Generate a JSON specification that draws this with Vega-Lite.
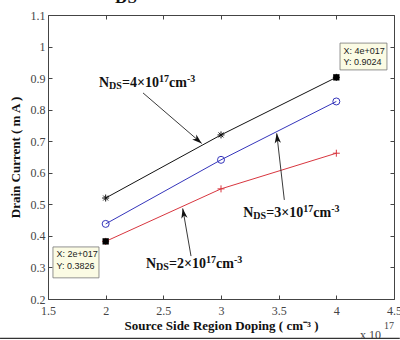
{
  "$schema": "https://vega.github.io/schema/vega-lite/v6.json",
  "width": 346,
  "height": 284,
  "autosize": {"type": "none"},
  "padding": {"left": 48, "top": 15, "right": 6, "bottom": 41},
  "background": "white",
  "config": {
    "view": {"stroke": "#444", "strokeWidth": 1},
    "axis": {
      "domain": false,
      "grid": false,
      "tickColor": "#444",
      "tickSize": -4,
      "tickWidth": 1,
      "labelFont": "Liberation Serif",
      "labelFontSize": 12,
      "labelColor": "#444",
      "labelFlush": false,
      "labelOverlap": false,
      "labelBound": false,
      "titleFont": "Liberation Serif",
      "titleFontSize": 13,
      "titleFontWeight": "bold",
      "titleColor": "#111"
    }
  },
  "datasets": {
    "series": [
      {"x": 2, "y": 0.52, "s": "4e17"},
      {"x": 3, "y": 0.72, "s": "4e17"},
      {"x": 4, "y": 0.9024, "s": "4e17"},
      {"x": 2, "y": 0.438, "s": "3e17"},
      {"x": 3, "y": 0.641, "s": "3e17"},
      {"x": 4, "y": 0.826, "s": "3e17"},
      {"x": 2, "y": 0.3826, "s": "2e17"},
      {"x": 3, "y": 0.549, "s": "2e17"},
      {"x": 4, "y": 0.662, "s": "2e17"}
    ],
    "tips": [
      {"px": 4, "py": 0.9024, "bx": 4.032, "bx2": 4.439, "by": 1.011, "by2": 0.926, "label": "X: 4e+017\nY: 0.9024"},
      {"px": 2, "py": 0.3826, "bx": 1.543, "bx2": 1.942, "by": 0.365, "by2": 0.267, "label": "X: 2e+017\nY: 0.3826"}
    ],
    "labels": [
      {"lx": 1.942, "ly": 0.873, "n": "N", "sub": "DS", "eq": "=4×10", "e1": "17", "u": "cm", "e2": "-3"},
      {"lx": 3.193, "ly": 0.461, "n": "N", "sub": "DS", "eq": "=3×10", "e1": "17", "u": "cm", "e2": "-3"},
      {"lx": 2.35, "ly": 0.298, "n": "N", "sub": "DS", "eq": "=2×10", "e1": "17", "u": "cm", "e2": "-3"}
    ],
    "arrows": [
      {"id": "a1", "x": 2.324, "y": 0.853, "x2": 2.833, "y2": 0.693},
      {"id": "a2", "x": 3.549, "y": 0.514, "x2": 3.483, "y2": 0.725},
      {"id": "a3", "x": 2.74, "y": 0.336, "x2": 2.668, "y2": 0.487}
    ],
    "extras": [
      {"x": 4.205, "y": 0.0748, "t": "x 10", "kind": "mult"},
      {"x": 4.413, "y": 0.105, "t": "17", "kind": "exp"},
      {"x": 2.176, "y": 1.139, "t": "DS", "kind": "top"}
    ],
    "frame": [
      {"x": 1.084, "x2": 4.55, "y": 0.0755}
    ]
  },
  "resolve": {"axis": {"x": "independent", "y": "independent"}},
  "layer": [
    {
      "data": {"name": "series"},
      "mark": {"type": "line", "strokeWidth": 1},
      "encoding": {
        "x": {"field": "x", "type": "quantitative", "scale": {"domain": [1.5, 4.5], "nice": false, "zero": false},
          "axis": {"orient": "bottom", "values": [1.5, 2, 2.5, 3, 3.5, 4, 4.5], "format": "~g", "labelPadding": 10, "titlePadding": 3,
            "title": "Source Side Region Doping ( cm⁻³ )"}},
        "y": {"field": "y", "type": "quantitative", "scale": {"domain": [0.2, 1.1], "nice": false, "zero": false},
          "axis": {"orient": "left", "values": [0.2, 0.3, 0.4, 0.5, 0.6, 0.7, 0.8, 0.9, 1, 1.1], "format": "~g", "labelPadding": 7, "titlePadding": 8,
            "title": "Drain Current ( m A )"}},
        "color": {"field": "s", "type": "nominal", "scale": {"domain": ["4e17", "3e17", "2e17"], "range": ["#111111", "#3535bb", "#d8363f"]}, "legend": null},
        "detail": {"field": "s"}
      }
    },
    {
      "data": {"name": "series"},
      "mark": {"type": "point", "filled": false, "opacity": 1, "size": 49, "strokeWidth": 1},
      "encoding": {
        "x": {"field": "x", "type": "quantitative", "scale": {"domain": [1.5, 4.5], "nice": false, "zero": false},
          "axis": {"orient": "top", "values": [1.5, 2, 2.5, 3, 3.5, 4, 4.5], "labels": false, "title": null}},
        "y": {"field": "y", "type": "quantitative", "scale": {"domain": [0.2, 1.1], "nice": false, "zero": false},
          "axis": {"orient": "right", "values": [0.2, 0.3, 0.4, 0.5, 0.6, 0.7, 0.8, 0.9, 1, 1.1], "labels": false, "title": null}},
        "color": {"field": "s", "type": "nominal", "scale": {"domain": ["4e17", "3e17", "2e17"], "range": ["#111111", "#3535bb", "#d8363f"]}, "legend": null},
        "shape": {"field": "s", "type": "nominal", "scale": {"domain": ["4e17", "3e17", "2e17"], "range": ["M-1,0L1,0M0,-1L0,1M-0.7,-0.7L0.7,0.7M-0.7,0.7L0.7,-0.7", "circle", "M-1,0L1,0M0,-1L0,1"]}, "legend": null}
      }
    },
    {
      "data": {"name": "arrows"},
      "mark": {"type": "rule", "color": "#222", "strokeWidth": 0.9},
      "encoding": {
        "x": {"field": "x", "type": "quantitative", "scale": {"domain": [1.5, 4.5], "nice": false, "zero": false}, "axis": null},
        "y": {"field": "y", "type": "quantitative", "scale": {"domain": [0.2, 1.1], "nice": false, "zero": false}, "axis": null},
        "x2": {"field": "x2"},
        "y2": {"field": "y2"}
      }
    },
    {
      "data": {"name": "arrows"},
      "transform": [{"filter": "datum.id === 'a1'"}],
      "mark": {"type": "point", "shape": "M0,0L-0.7,2.2L0,1.6L0.7,2.2Z", "filled": true, "opacity": 1, "color": "#111", "size": 81, "angle": 130.6},
      "encoding": {
        "x": {"field": "x2", "type": "quantitative", "scale": {"domain": [1.5, 4.5], "nice": false, "zero": false}, "axis": null},
        "y": {"field": "y2", "type": "quantitative", "scale": {"domain": [0.2, 1.1], "nice": false, "zero": false}, "axis": null}
      }
    },
    {
      "data": {"name": "arrows"},
      "transform": [{"filter": "datum.id === 'a2'"}],
      "mark": {"type": "point", "shape": "M0,0L-0.7,2.2L0,1.6L0.7,2.2Z", "filled": true, "opacity": 1, "color": "#111", "size": 81, "angle": 353.5},
      "encoding": {
        "x": {"field": "x2", "type": "quantitative", "scale": {"domain": [1.5, 4.5], "nice": false, "zero": false}, "axis": null},
        "y": {"field": "y2", "type": "quantitative", "scale": {"domain": [0.2, 1.1], "nice": false, "zero": false}, "axis": null}
      }
    },
    {
      "data": {"name": "arrows"},
      "transform": [{"filter": "datum.id === 'a3'"}],
      "mark": {"type": "point", "shape": "M0,0L-0.7,2.2L0,1.6L0.7,2.2Z", "filled": true, "opacity": 1, "color": "#111", "size": 81, "angle": 350},
      "encoding": {
        "x": {"field": "x2", "type": "quantitative", "scale": {"domain": [1.5, 4.5], "nice": false, "zero": false}, "axis": null},
        "y": {"field": "y2", "type": "quantitative", "scale": {"domain": [0.2, 1.1], "nice": false, "zero": false}, "axis": null}
      }
    },
    {
      "data": {"name": "tips"},
      "mark": {"type": "rect", "fill": "#fbfbe4", "stroke": "#777", "strokeWidth": 0.8},
      "encoding": {
        "x": {"field": "bx", "type": "quantitative", "scale": {"domain": [1.5, 4.5], "nice": false, "zero": false}, "axis": null},
        "x2": {"field": "bx2"},
        "y": {"field": "by", "type": "quantitative", "scale": {"domain": [0.2, 1.1], "nice": false, "zero": false}, "axis": null},
        "y2": {"field": "by2"}
      }
    },
    {
      "data": {"name": "tips"},
      "mark": {"type": "text", "align": "left", "baseline": "alphabetic", "dx": 3.5, "dy": 10.5, "lineBreak": "\n", "lineHeight": 11.7, "font": "Liberation Sans", "fontSize": 9, "color": "#222"},
      "encoding": {
        "x": {"field": "bx", "type": "quantitative", "scale": {"domain": [1.5, 4.5], "nice": false, "zero": false}, "axis": null},
        "y": {"field": "by", "type": "quantitative", "scale": {"domain": [0.2, 1.1], "nice": false, "zero": false}, "axis": null},
        "text": {"field": "label"}
      }
    },
    {
      "data": {"name": "tips"},
      "mark": {"type": "point", "shape": "square", "filled": true, "opacity": 1, "color": "#000", "size": 40},
      "encoding": {
        "x": {"field": "px", "type": "quantitative", "scale": {"domain": [1.5, 4.5], "nice": false, "zero": false}, "axis": null},
        "y": {"field": "py", "type": "quantitative", "scale": {"domain": [0.2, 1.1], "nice": false, "zero": false}, "axis": null}
      }
    },
    {
      "data": {"name": "labels"},
      "mark": {"type": "text", "align": "left", "baseline": "alphabetic", "font": "Liberation Serif", "fontWeight": "bold", "fontSize": 14, "color": "#111"},
      "encoding": {
        "x": {"field": "lx", "type": "quantitative", "scale": {"domain": [1.5, 4.5], "nice": false, "zero": false}, "axis": null},
        "y": {"field": "ly", "type": "quantitative", "scale": {"domain": [0.2, 1.1], "nice": false, "zero": false}, "axis": null},
        "text": {"field": "n"}
      }
    },
    {
      "data": {"name": "labels"},
      "mark": {"type": "text", "align": "left", "baseline": "alphabetic", "dx": 10, "dy": 2, "font": "Liberation Serif", "fontWeight": "bold", "fontSize": 10, "color": "#111"},
      "encoding": {
        "x": {"field": "lx", "type": "quantitative", "scale": {"domain": [1.5, 4.5], "nice": false, "zero": false}, "axis": null},
        "y": {"field": "ly", "type": "quantitative", "scale": {"domain": [0.2, 1.1], "nice": false, "zero": false}, "axis": null},
        "text": {"field": "sub"}
      }
    },
    {
      "data": {"name": "labels"},
      "mark": {"type": "text", "align": "left", "baseline": "alphabetic", "dx": 23, "font": "Liberation Serif", "fontWeight": "bold", "fontSize": 14, "color": "#111"},
      "encoding": {
        "x": {"field": "lx", "type": "quantitative", "scale": {"domain": [1.5, 4.5], "nice": false, "zero": false}, "axis": null},
        "y": {"field": "ly", "type": "quantitative", "scale": {"domain": [0.2, 1.1], "nice": false, "zero": false}, "axis": null},
        "text": {"field": "eq"}
      }
    },
    {
      "data": {"name": "labels"},
      "mark": {"type": "text", "align": "left", "baseline": "alphabetic", "dx": 60, "dy": -5, "font": "Liberation Serif", "fontWeight": "bold", "fontSize": 10, "color": "#111"},
      "encoding": {
        "x": {"field": "lx", "type": "quantitative", "scale": {"domain": [1.5, 4.5], "nice": false, "zero": false}, "axis": null},
        "y": {"field": "ly", "type": "quantitative", "scale": {"domain": [0.2, 1.1], "nice": false, "zero": false}, "axis": null},
        "text": {"field": "e1"}
      }
    },
    {
      "data": {"name": "labels"},
      "mark": {"type": "text", "align": "left", "baseline": "alphabetic", "dx": 70, "font": "Liberation Serif", "fontWeight": "bold", "fontSize": 14, "color": "#111"},
      "encoding": {
        "x": {"field": "lx", "type": "quantitative", "scale": {"domain": [1.5, 4.5], "nice": false, "zero": false}, "axis": null},
        "y": {"field": "ly", "type": "quantitative", "scale": {"domain": [0.2, 1.1], "nice": false, "zero": false}, "axis": null},
        "text": {"field": "u"}
      }
    },
    {
      "data": {"name": "labels"},
      "mark": {"type": "text", "align": "left", "baseline": "alphabetic", "dx": 88, "dy": -5, "font": "Liberation Serif", "fontWeight": "bold", "fontSize": 10, "color": "#111"},
      "encoding": {
        "x": {"field": "lx", "type": "quantitative", "scale": {"domain": [1.5, 4.5], "nice": false, "zero": false}, "axis": null},
        "y": {"field": "ly", "type": "quantitative", "scale": {"domain": [0.2, 1.1], "nice": false, "zero": false}, "axis": null},
        "text": {"field": "e2"}
      }
    },
    {
      "data": {"name": "extras"},
      "transform": [{"filter": "datum.kind === 'mult'"}],
      "mark": {"type": "text", "align": "left", "baseline": "alphabetic", "font": "Liberation Serif", "fontSize": 12, "color": "#444"},
      "encoding": {
        "x": {"field": "x", "type": "quantitative", "scale": {"domain": [1.5, 4.5], "nice": false, "zero": false}, "axis": null},
        "y": {"field": "y", "type": "quantitative", "scale": {"domain": [0.2, 1.1], "nice": false, "zero": false}, "axis": null},
        "text": {"field": "t"}
      }
    },
    {
      "data": {"name": "extras"},
      "transform": [{"filter": "datum.kind === 'exp'"}],
      "mark": {"type": "text", "align": "left", "baseline": "alphabetic", "font": "Liberation Serif", "fontSize": 10, "color": "#444"},
      "encoding": {
        "x": {"field": "x", "type": "quantitative", "scale": {"domain": [1.5, 4.5], "nice": false, "zero": false}, "axis": null},
        "y": {"field": "y", "type": "quantitative", "scale": {"domain": [0.2, 1.1], "nice": false, "zero": false}, "axis": null},
        "text": {"field": "t"}
      }
    },
    {
      "data": {"name": "extras"},
      "transform": [{"filter": "datum.kind === 'top'"}],
      "mark": {"type": "text", "align": "center", "baseline": "alphabetic", "font": "Liberation Serif", "fontWeight": "bold", "fontSize": 17, "color": "#111"},
      "encoding": {
        "x": {"field": "x", "type": "quantitative", "scale": {"domain": [1.5, 4.5], "nice": false, "zero": false}, "axis": null},
        "y": {"field": "y", "type": "quantitative", "scale": {"domain": [0.2, 1.1], "nice": false, "zero": false}, "axis": null},
        "text": {"field": "t"}
      }
    },
    {
      "data": {"name": "frame"},
      "mark": {"type": "rule", "color": "#333", "strokeWidth": 1.2},
      "encoding": {
        "x": {"field": "x", "type": "quantitative", "scale": {"domain": [1.5, 4.5], "nice": false, "zero": false}, "axis": null},
        "x2": {"field": "x2"},
        "y": {"field": "y", "type": "quantitative", "scale": {"domain": [0.2, 1.1], "nice": false, "zero": false}, "axis": null}
      }
    }
  ]
}
